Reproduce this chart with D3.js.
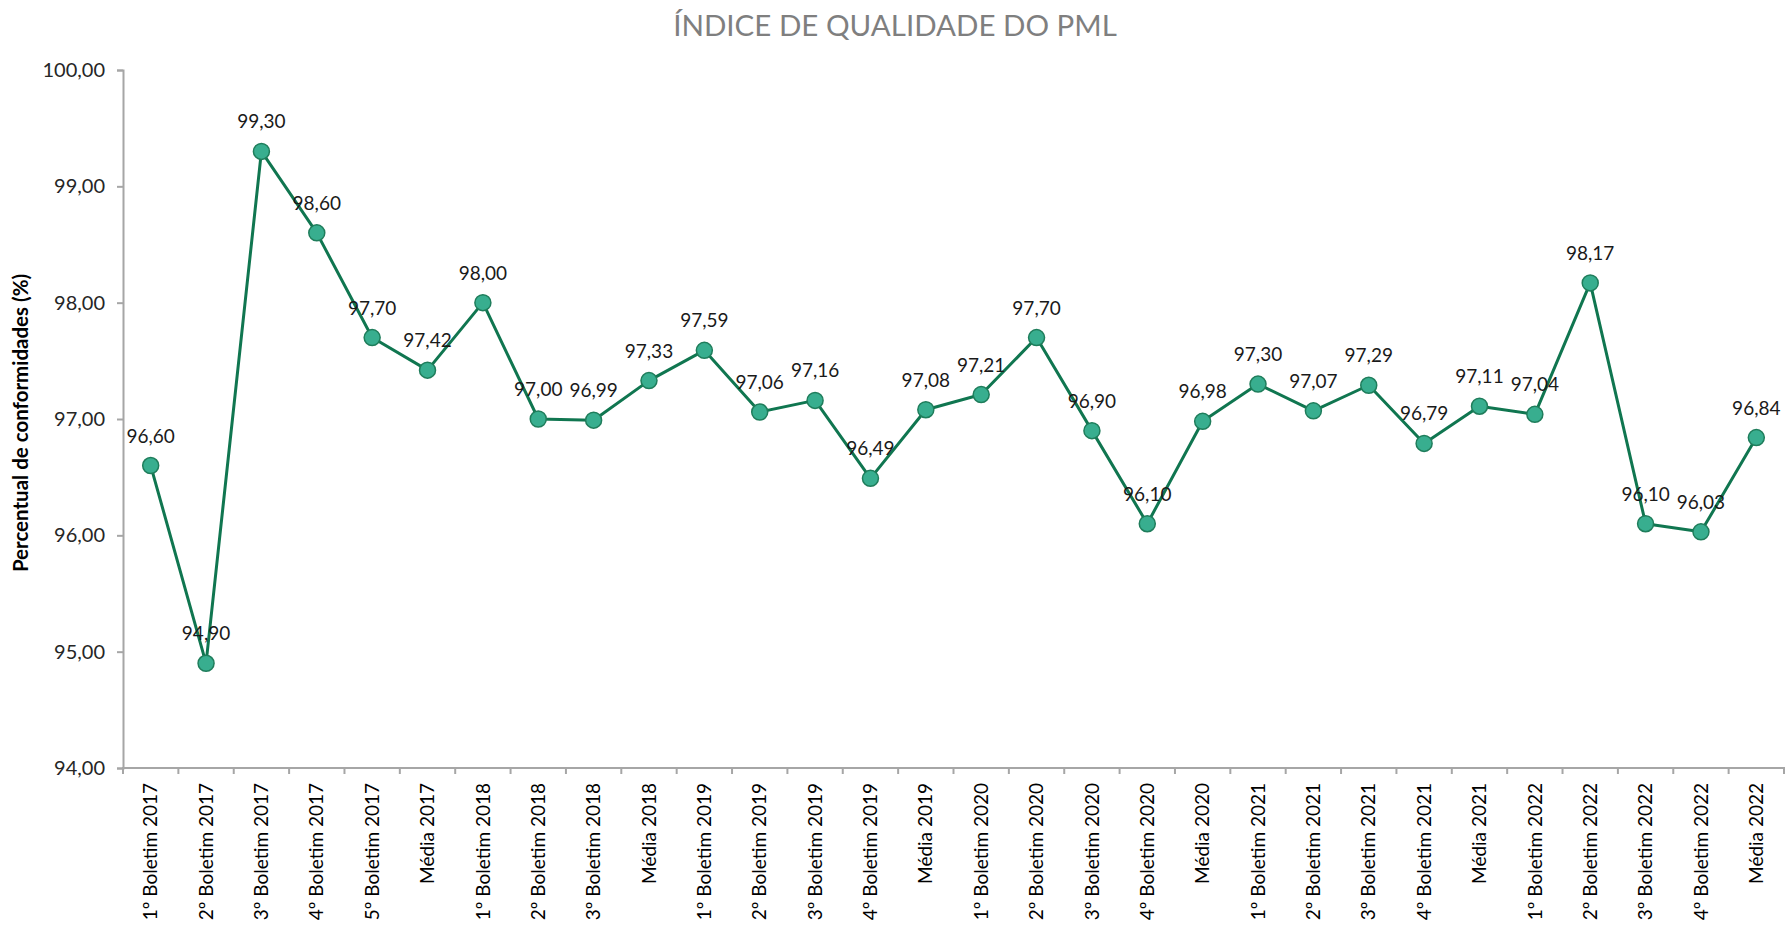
<!DOCTYPE html>
<html>
<head>
<meta charset="utf-8">
<script src="https://cdnjs.cloudflare.com/ajax/libs/d3/7.8.5/d3.min.js"></script>
<style>
  html, body { margin: 0; padding: 0; background: #fff; }
  svg { display: block; font-family: Lato, "Open Sans", sans-serif; }
</style>
</head>
<body>
<div id="chart"></div>
<script>
// categories (x axis)
var categories = [
  "1º Boletim 2017", "2º Boletim 2017", "3º Boletim 2017", "4º Boletim 2017", "5º Boletim 2017", "Média 2017",
  "1º Boletim 2018", "2º Boletim 2018", "3º Boletim 2018", "Média 2018",
  "1º Boletim 2019", "2º Boletim 2019", "3º Boletim 2019", "4º Boletim 2019", "Média 2019",
  "1º Boletim 2020", "2º Boletim 2020", "3º Boletim 2020", "4º Boletim 2020", "Média 2020",
  "1º Boletim 2021", "2º Boletim 2021", "3º Boletim 2021", "4º Boletim 2021", "Média 2021",
  "1º Boletim 2022", "2º Boletim 2022", "3º Boletim 2022", "4º Boletim 2022", "Média 2022"
];

// índice de qualidade (%)
var values = [
  96.60, 94.90, 99.30, 98.60, 97.70, 97.42,
  98.00, 97.00, 96.99, 97.33,
  97.59, 97.06, 97.16, 96.49, 97.08,
  97.21, 97.70, 96.90, 96.10, 96.98,
  97.30, 97.07, 97.29, 96.79, 97.11,
  97.04, 98.17, 96.10, 96.03, 96.84
];

var yTicks = [94, 95, 96, 97, 98, 99, 100];

function drawChart() {
  var W = 1787, H = 931;
  var mLeft = 123, mRight = 1784, mTop = 70, mBottom = 768;

  var ptBR = d3.formatLocale({decimal: ",", thousands: ".", grouping: [3], currency: ["R$", ""]});
  var fmt = ptBR.format(".2f");

  var svg = d3.select("#chart").append("svg")
    .attr("width", W)
    .attr("height", H);

  var x = d3.scaleBand()
    .domain(categories)
    .range([mLeft, mRight])
    .padding(0);

  var y = d3.scaleLinear()
    .domain([94, 100])
    .range([mBottom, mTop]);

  // title
  svg.append("text")
    .attr("x", 895)
    .attr("y", 36)
    .attr("text-anchor", "middle")
    .style("font-size", "29.5px")
    .style("fill", "#7f7f7f")
    .text("ÍNDICE DE QUALIDADE DO PML");

  // y axis
  var yAxis = svg.append("g")
    .attr("transform", "translate(" + mLeft + ",0)")
    .call(d3.axisLeft(y).tickValues(yTicks).tickFormat(fmt).tickSize(6).tickPadding(12));
  yAxis.select(".domain").attr("stroke", "#a6a6a6").attr("stroke-width", 2);
  yAxis.selectAll(".tick line").attr("stroke", "#a6a6a6").attr("stroke-width", 2);
  yAxis.selectAll(".tick text")
    .style("font-size", "20px")
    .style("fill", "#262626")
    .style("font-family", "Lato, sans-serif");

  // y axis title
  svg.append("text")
    .attr("transform", "translate(28," + ((mTop + mBottom) / 2 + 4) + ") rotate(-90)")
    .attr("text-anchor", "middle")
    .style("font-size", "20.5px")
    .style("font-weight", "bold")
    .style("fill", "#000")
    .text("Percentual de conformidades (%)");

  // x axis: labels at centers, ticks between categories (Excel style)
  var xAxis = svg.append("g")
    .attr("transform", "translate(0," + mBottom + ")")
    .call(d3.axisBottom(x).tickSize(0).tickPadding(0));
  xAxis.select(".domain").remove();
  xAxis.selectAll(".tick text")
    .style("font-size", "19px")
    .style("fill", "#000")
    .style("font-family", "Lato, sans-serif")
    .attr("text-anchor", "end")
    .attr("transform", "rotate(-90)")
    .attr("x", -15)
    .attr("y", 0)
    .attr("dy", "0.35em");

  svg.append("line")
    .attr("x1", mLeft - 1).attr("x2", mRight + 1)
    .attr("y1", mBottom).attr("y2", mBottom)
    .attr("stroke", "#a6a6a6").attr("stroke-width", 2);

  var bounds = categories.map(function(c) { return x(c); }).concat([x.range()[1]]);
  svg.append("g").selectAll("line")
    .data(bounds)
    .enter().append("line")
    .attr("x1", function(d) { return d; })
    .attr("x2", function(d) { return d; })
    .attr("y1", mBottom)
    .attr("y2", mBottom + 6)
    .attr("stroke", "#a6a6a6")
    .attr("stroke-width", 2);

  // series
  var data = categories.map(function(c, i) { return {cat: c, value: values[i]}; });
  var cx = function(d) { return x(d.cat) + x.bandwidth() / 2; };

  var line = d3.line()
    .x(cx)
    .y(function(d) { return y(d.value); });

  svg.append("path")
    .datum(data)
    .attr("d", line)
    .attr("fill", "none")
    .attr("stroke", "#107650")
    .attr("stroke-width", 3)
    .attr("stroke-linejoin", "round");

  svg.append("g").selectAll("circle")
    .data(data)
    .enter().append("circle")
    .attr("cx", cx)
    .attr("cy", function(d) { return y(d.value); })
    .attr("r", 8)
    .attr("fill", "#38ae8f")
    .attr("stroke", "#1f7d5b")
    .attr("stroke-width", 1.5);

  svg.append("g").selectAll("text")
    .data(data)
    .enter().append("text")
    .attr("x", cx)
    .attr("y", function(d) { return y(d.value) - 23; })
    .attr("text-anchor", "middle")
    .style("font-size", "19px")
    .style("fill", "#1a1a1a")
    .text(function(d) { return fmt(d.value); });
}

drawChart();
</script>
</body>
</html>
